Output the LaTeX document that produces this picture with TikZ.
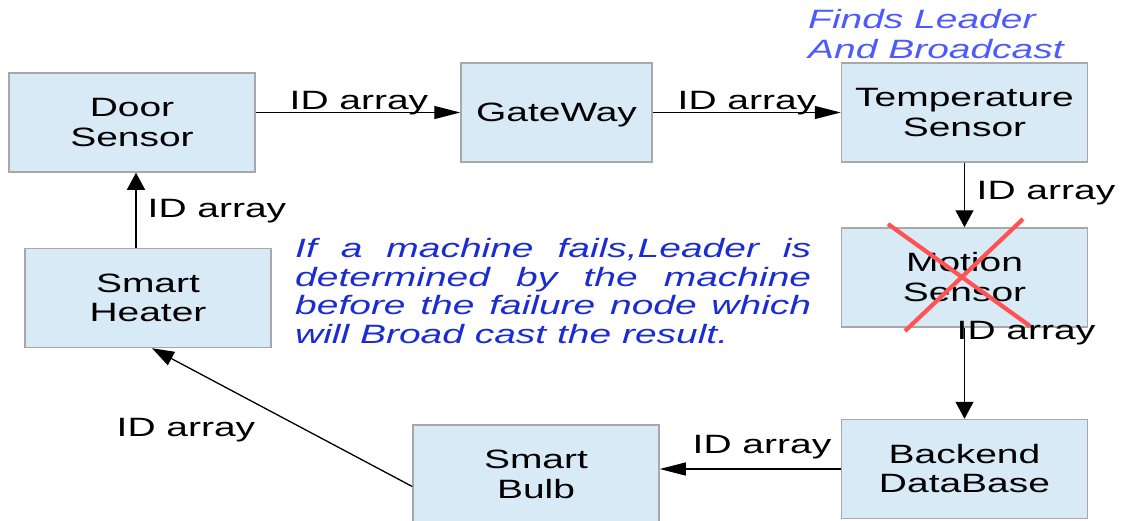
\documentclass[tikz,border=0pt]{standalone}
\usepackage{graphicx}
\usepackage{fontspec}
\setmainfont{Liberation Sans}
\usetikzlibrary{arrows.meta}
\newcommand\fs{\fontsize{26.5}{29.5}\selectfont}
\newcommand\wtext[1]{\raisebox{-3pt}[\height][\depth]{\scalebox{1.47}[1]{\fs\begin{tabular}{@{}c@{}}#1\end{tabular}}}}
\newcommand\wlab[1]{\scalebox{1.47}[1]{\fs #1}}
\definecolor{boxfill}{HTML}{D8EAF6}
\definecolor{boxline}{HTML}{A8A8A8}
\definecolor{crossred}{HTML}{FF5252}
\definecolor{paratext}{HTML}{1A2DD2}
\definecolor{notetext}{HTML}{4D5AFF}
\tikzset{
  box/.style={draw=boxline, fill=boxfill, line width=1.5pt, minimum width=246pt,
    minimum height=99pt, inner sep=0pt, text=black},
  lab/.style={inner sep=0pt, anchor=base},
  arr/.style={line width=1.3pt, draw=black},
  htip/.style={-{Triangle[length=26pt,width=13pt]}},
  vtip/.style={-{Triangle[length=17pt,width=18pt]}},
  dtip/.style={-{Triangle[length=22pt,width=15pt]}},
  cross/.style={draw=crossred, line width=4.2pt},
}
\begin{document}
\begin{tikzpicture}[x=1pt,y=-1pt]
\useasboundingbox (0,0) rectangle (1124,520);
% boxes
\node[box] (door) at (132,122.5) {\wtext{Door\\Sensor}};
\node[box, minimum width=191pt] (gw) at (556.5,112.5) {\wtext{GateWay}};
\node[box] (temp) at (964.5,112.5) {\wtext{Temperature\\Sensor}};
\node[box] (motion) at (964.5,277.5) {\wtext{Motion\\Sensor}};
\node[box] (backend) at (964.5,469) {\wtext{Backend\\DataBase}};
\node[box] (bulb) at (536,474.5) {\wtext{Smart\\Bulb}};
\node[box] (heater) at (148,298) {\wtext{Smart\\Heater}};
% connectors
\draw[arr,htip] (door.east |- gw.west) -- (gw.west);
\draw[arr,htip] (gw.east) -- (temp.west);
\draw[arr,vtip] (temp.south) -- (motion.north);
\draw[arr,vtip] (motion.south) -- (backend.north);
\draw[arr,htip] (backend.west) -- (backend.west -| bulb.east);
\draw[arr,dtip] ([yshift=-12pt]bulb.west) -- ([xshift=4pt]heater.south);
\draw[arr,vtip] ([xshift=4pt]door.south |- heater.north) -- ([xshift=4pt]door.south);
% labels
\node[lab] (l1) at (359,109) {\wlab{ID array}};
\node[lab] (l2) at (747,109) {\wlab{ID array}};
\node[lab] (l3) at (1046,199) {\wlab{ID array}};
\node[lab] (l4) at (1026,339) {\wlab{ID array}};
\node[lab] (l5) at (762,453) {\wlab{ID array}};
\node[lab] (l6) at (186,436) {\wlab{ID array}};
\node[lab] (l7) at (217,217) {\wlab{ID array}};
% cross over failed node
\draw[cross] (888,224) -- (1030,326);
\draw[cross] (1023,219) -- (905,331);
% notes
\node[inner sep=0pt, anchor=base west, text=notetext] (note) at (808,58)
  {\scalebox{1.47}[1]{\vbox{\fs\itshape\hbox{Finds Leader}\hbox{And Broadcast}}}};
\node[inner sep=0pt, anchor=base west, text=paratext] (para) at (295,343)
  {\scalebox{1.47}[1]{\vbox{\fontsize{26.5}{28.5}\selectfont\itshape\hsize=351pt
    \hbox to\hsize{If a machine fails,Leader is}%
    \hbox to\hsize{determined by the machine}%
    \hbox to\hsize{before the failure node which}%
    \hbox{will Broad cast the result.}}}};
\end{tikzpicture}
\end{document}
